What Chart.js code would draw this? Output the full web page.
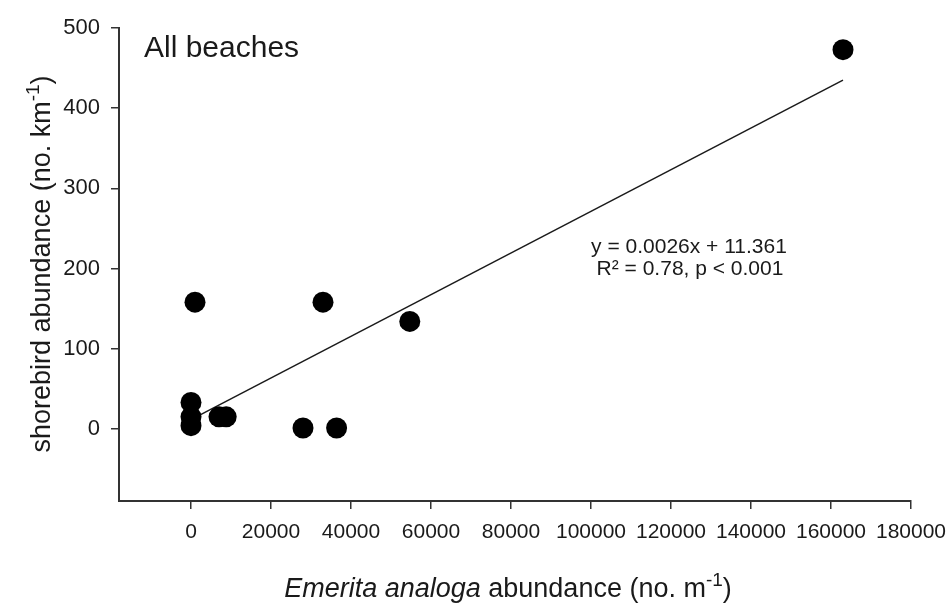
<!DOCTYPE html>
<html>
<head>
<meta charset="utf-8">
<script src="https://cdn.jsdelivr.net/npm/chart.js@4"></script>
<style>
html, body { margin: 0; padding: 0; background: #fff; }
#wrap { width: 949px; height: 605px; }
</style>
</head>
<body>
<div id="wrap"><canvas id="beachChart" width="949" height="605"></canvas></div>
<script>
// Emerita analoga abundance (no. m-1) vs shorebird abundance (no. km-1)
var emeritaX   = [163000, 1000, 33000, 54700, 0, 0, 0, 7000, 8800, 28000, 36400];
var shorebirdY = [473, 158, 158, 134, 33, 15, 4, 15, 15, 1, 1];

// regression line ends
var fitX = [0, 163000];
var fitY = [11.4, 435];

var xTicks = [0, 20000, 40000, 60000, 80000, 100000, 120000, 140000, 160000, 180000];
var yTicks = [0, 100, 200, 300, 400, 500];

var fontFam = "'Liberation Sans', Arial, sans-serif";
var ink = '#1a1a1a';
var axisInk = '#333';

function pairs(xs, ys) {
    return xs.map(function (x, i) { return { x: x, y: ys[i] }; });
}

// draws text pieces in a row, some italic or raised
function richWidth(ctx, parts, size) {
    var w = 0;
    parts.forEach(function (p) {
        ctx.font = (p.italic ? 'italic ' : '') + (p.sup ? Math.round(size * 0.72) : size) + 'px ' + fontFam;
        w += ctx.measureText(p.t).width;
    });
    return w;
}
function drawRich(ctx, parts, size, x, y) {
    parts.forEach(function (p) {
        ctx.font = (p.italic ? 'italic ' : '') + (p.sup ? Math.round(size * 0.72) : size) + 'px ' + fontFam;
        ctx.fillText(p.t, x, p.sup ? y - size * 0.42 : y);
        x += ctx.measureText(p.t).width;
    });
}

var xTitle = [{ t: 'Emerita analoga', italic: true }, { t: ' abundance (no. m' }, { t: '-1', sup: true }, { t: ')' }];
var yTitle = [{ t: 'shorebird abundance (no. km' }, { t: '-1', sup: true }, { t: ')' }];

var textPlugin = {
    id: 'texts',
    afterDraw: function (chart) {
        var ctx = chart.ctx;
        ctx.save();
        ctx.fillStyle = ink;
        ctx.textBaseline = 'alphabetic';
        ctx.textAlign = 'left';

        ctx.font = '30px ' + fontFam;
        ctx.fillText('All beaches', 144, 57);

        ctx.textAlign = 'center';
        ctx.font = '21px ' + fontFam;
        ctx.fillText('y = 0.0026x + 11.361', 689, 253);
        ctx.fillText('R\u00b2 = 0.78, p < 0.001', 690, 275);

        ctx.textAlign = 'left';
        var w = richWidth(ctx, xTitle, 27);
        drawRich(ctx, xTitle, 27, 508 - w / 2, 597);

        ctx.translate(50, 264);
        ctx.rotate(-Math.PI / 2);
        w = richWidth(ctx, yTitle, 27);
        drawRich(ctx, yTitle, 27, -w / 2, 0);
        ctx.restore();
    }
};

var ctx = document.getElementById('beachChart').getContext('2d');
var myChart = new Chart(ctx, {
    type: 'scatter',
    data: {
        datasets: [
            {
                label: 'fit',
                type: 'line',
                data: pairs(fitX, fitY),
                borderColor: ink,
                borderWidth: 1.5,
                pointRadius: 0,
                fill: false,
                order: 2
            },
            {
                label: 'beaches',
                data: pairs(emeritaX, shorebirdY),
                pointRadius: 10.5,
                pointHoverRadius: 10.5,
                backgroundColor: '#000',
                borderWidth: 0,
                order: 1
            }
        ]
    },
    options: {
        responsive: false,
        animation: false,
        layout: { padding: { left: 0, right: 38, top: 28, bottom: 0 } },
        plugins: {
            legend: { display: false },
            tooltip: { enabled: false }
        },
        scales: {
            x: {
                type: 'linear',
                min: -18000,
                max: 180000,
                afterBuildTicks: function (s) { s.ticks = xTicks.map(function (v) { return { value: v }; }); },
                afterFit: function (s) { s.height = 104; s.paddingLeft = 0; s.paddingRight = 0; },
                grid: { drawOnChartArea: false, drawTicks: true, tickLength: 8, color: axisInk, lineWidth: 1.5 },
                border: { display: true, color: axisInk, width: 2 },
                ticks: {
                    color: ink,
                    font: { family: fontFam, size: 21 },
                    padding: 11,
                    maxRotation: 0,
                    autoSkip: false,
                    callback: function (v) { return String(v); }
                }
            },
            y: {
                type: 'linear',
                min: -90,
                max: 500,
                afterBuildTicks: function (s) { s.ticks = yTicks.map(function (v) { return { value: v }; }); },
                afterFit: function (s) { s.width = 119; s.paddingTop = 0; s.paddingBottom = 0; },
                grid: { drawOnChartArea: false, drawTicks: true, tickLength: 8, color: axisInk, lineWidth: 1.5 },
                border: { display: true, color: axisInk, width: 2 },
                ticks: {
                    color: ink,
                    font: { family: fontFam, size: 22 },
                    padding: 11,
                    callback: function (v) { return String(v); }
                }
            }
        }
    },
    plugins: [textPlugin]
});
</script>
</body>
</html>
